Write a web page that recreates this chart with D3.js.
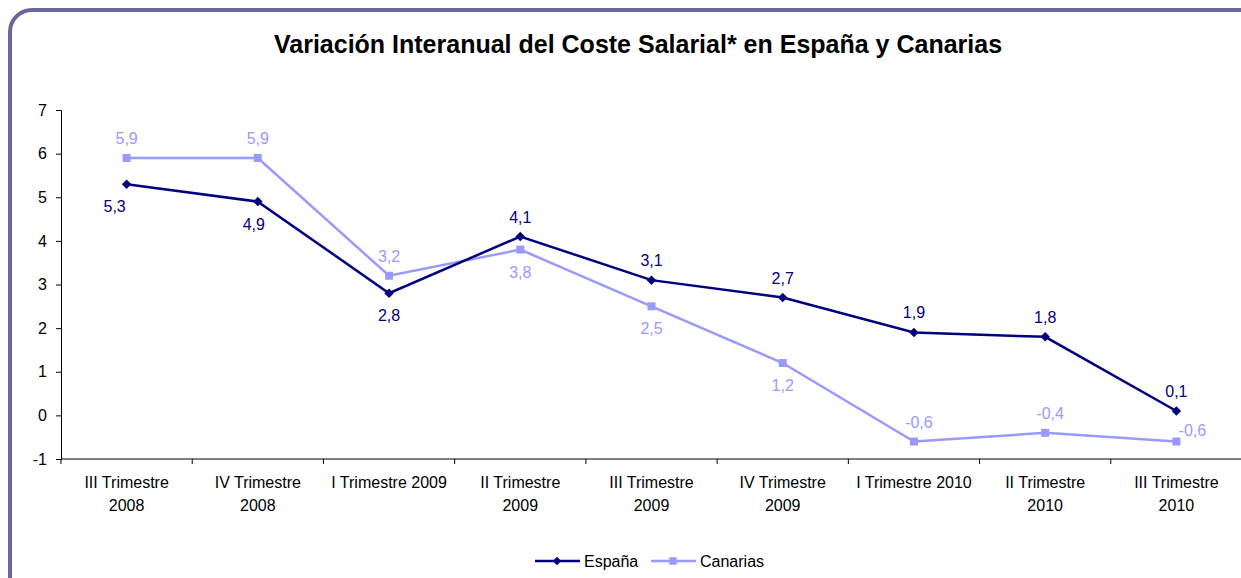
<!DOCTYPE html>
<html><head><meta charset="utf-8">
<script src="https://cdn.jsdelivr.net/npm/d3@7"></script>
<style>body{margin:0;background:#fff;}svg{display:block;font-family:"Liberation Sans",Arial,sans-serif;}</style>
</head><body>
<svg id="c" width="1241" height="578"></svg>
<script>
const categories = [["III Trimestre","2008"],["IV Trimestre","2008"],["I Trimestre 2009"],["II Trimestre","2009"],["III Trimestre","2009"],["IV Trimestre","2009"],["I Trimestre 2010"],["II Trimestre","2010"],["III Trimestre","2010"]];
const espana = [5.3,4.9,2.8,4.1,3.1,2.7,1.9,1.8,0.1];
const canarias = [5.9,5.9,3.2,3.8,2.5,1.2,-0.6,-0.4,-0.6];
const espanaLabelPos = ["belowLeft","below","below","above","above","above","above","above","above"];
const canariasLabelPos = ["above","above","above","below","below","below","above","above","aboveRight"];
const yTicks = [-1,0,1,2,3,4,5,6,7];
const seriesNames = ["España","Canarias"];
const title = "Variación Interanual del Coste Salarial* en España y Canarias";

const FS = 16;
const svg = d3.select("#c");
svg.append("rect").attr("x",10).attr("y",10).attr("width",1260).attr("height",600)
  .attr("rx",22).attr("fill","#fff").attr("stroke","#68689a").attr("stroke-width",4);
svg.append("text").attr("x",638).attr("y",53).attr("text-anchor","middle")
  .attr("font-size",25).attr("font-weight","bold").attr("fill","#000").text(title);

const x = d3.scaleBand().domain(d3.range(categories.length)).range([61,1242]);
const y = d3.scaleLinear().domain([-1,7]).range([459,110]);

const yAxis = svg.append("g").attr("transform","translate(61,0)")
  .call(d3.axisLeft(y).tickValues(yTicks).tickSize(5).tickFormat(d=>String(d)));
yAxis.select(".domain").attr("stroke","#000");
yAxis.selectAll(".tick line").attr("stroke","#000");
yAxis.selectAll(".tick text").attr("font-size",FS).attr("fill","#000").attr("x",-14).attr("font-family","Liberation Sans, Arial, sans-serif");

const xg = svg.append("g");
xg.append("line").attr("x1",61).attr("x2",1242).attr("y1",y(-1)).attr("y2",y(-1)).attr("stroke","#000");
d3.range(categories.length+1).forEach(i=>{
  const xx = i<categories.length ? x(i) : 1242;
  xg.append("line").attr("x1",xx).attr("x2",xx).attr("y1",y(-1)).attr("y2",y(-1)+5).attr("stroke","#000");
});
categories.forEach((lines,i)=>{
  const t = xg.append("text").attr("text-anchor","middle").attr("font-size",FS).attr("fill","#000");
  lines.forEach((l,j)=>t.append("tspan").attr("x",x(i)+x.bandwidth()/2).attr("y",488+j*23).text(l));
});

const cx = i => x(i)+x.bandwidth()/2;
const line = d3.line().x((d,i)=>cx(i)).y(d=>y(d));
const fmt = d => d3.format(".1f")(d).replace(".",",").replace("\u2212","-");

function drawSeries(vals,color,shape,pos){
  svg.append("path").datum(vals).attr("d",line).attr("fill","none").attr("stroke",color).attr("stroke-width",2.5);
  svg.selectAll(null).data(vals).enter().append("path")
    .attr("d",shape==="diamond"?d3.symbol().type(d3.symbolSquare).size(45):d3.symbol().type(d3.symbolSquare).size(64))
    .attr("transform",(d,i)=>`translate(${cx(i)},${y(d)})`+(shape==="diamond"?" rotate(45)":""))
    .attr("fill",color);
  svg.selectAll(null).data(vals).enter().append("text")
    .attr("x",(d,i)=>cx(i)+(pos[i]==="aboveRight"?16:(pos[i]==="belowLeft"?-12:(pos[i]==="below"&&i===1?-4:(d<0?5:0)))))
    .attr("y",(d,i)=>y(d)+(pos[i].startsWith("below")?28:(pos[i]==="aboveRight"?-6:-14)))
    .attr("text-anchor","middle").attr("font-size",FS).attr("fill",color)
    .text(fmt);
}
drawSeries(canarias,"#9999ff","square",canariasLabelPos);
drawSeries(espana,"#000080","diamond",espanaLabelPos);

// legend
const lg = svg.append("g");
const legItems = [{name:seriesNames[0],color:"#000080",shape:"diamond",x:535},{name:seriesNames[1],color:"#9999ff",shape:"square",x:651}];
legItems.forEach(it=>{
  lg.append("line").attr("x1",it.x).attr("x2",it.x+45).attr("y1",561).attr("y2",561).attr("stroke",it.color).attr("stroke-width",2.5);
  lg.append("path").attr("d",d3.symbol().type(d3.symbolSquare).size(it.shape==="diamond"?36:56))
    .attr("transform",`translate(${it.x+22},561)`+(it.shape==="diamond"?" rotate(45)":"")).attr("fill",it.color);
  lg.append("text").attr("x",it.x+49).attr("y",567).attr("font-size",FS).attr("fill","#000").text(it.name);
});
</script>
</body></html>
